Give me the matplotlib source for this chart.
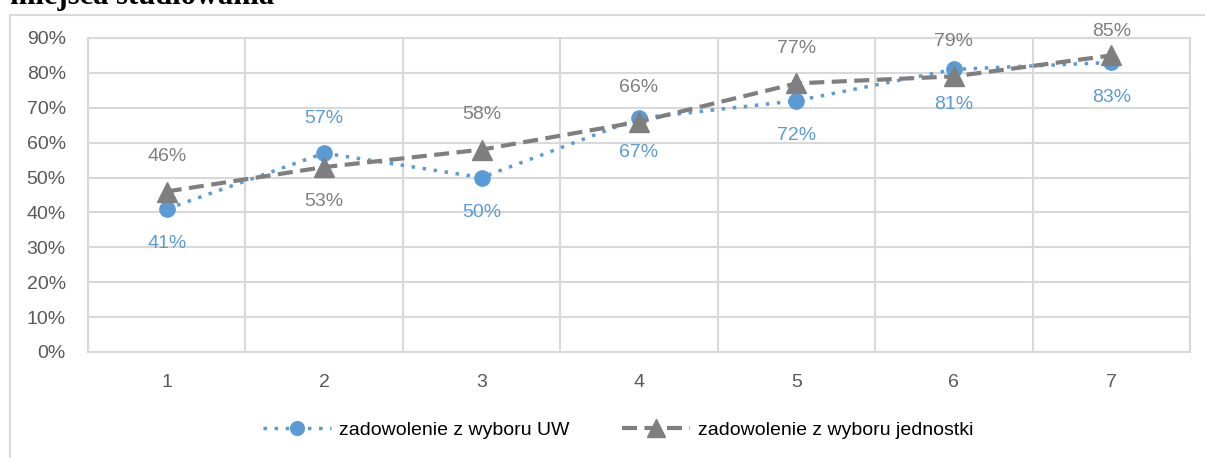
import numpy as np
import matplotlib.pyplot as plt
from matplotlib.patches import Rectangle

plt.rcParams['font.family'] = ['Liberation Sans', 'DejaVu Sans']

categories = [1, 2, 3, 4, 5, 6, 7]
uw = [41, 57, 50, 67, 72, 81, 83]
jedn = [46, 53, 58, 66, 77, 79, 85]
uw_pos = ['below', 'above', 'below', 'below', 'below', 'below', 'below']
jedn_pos = ['above', 'below', 'above', 'above', 'above', 'above', 'above']
yticks = [0, 10, 20, 30, 40, 50, 60, 70, 80, 90]

blue = '#5b9bd5'
grey = '#7f7f7f'
txt = '#595959'
fs = 14

fig = plt.figure(figsize=(12.05, 4.58), dpi=100)
W, H = 1205, 458
ax_top, ax_bot = 38, 352

# chart frame
fig.patches.append(Rectangle((10 / W, -0.1), 1.2, 1 - 15 / H + 0.1, transform=fig.transFigure,
                             fill=False, edgecolor='#d9d9d9', linewidth=1.5))
fig.text(10 / W, 1 - 4 / H, 'miejsca studiowania', family='Liberation Serif', weight='bold',
         fontsize=22, va='baseline', ha='left')

ax = fig.add_axes([88 / W, 1 - ax_bot / H, (1190 - 88) / W, (ax_bot - ax_top) / H])
ax.set_xlim(0.5, 7.5)
ax.set_ylim(0, 90)
ax.set_yticks(yticks)
ax.set_yticklabels([f'{v}%' for v in yticks])
ax.set_xticks(categories)
ax.set_xticks(np.arange(0.5, 8, 1), minor=True)
ax.grid(True, which='major', axis='y', color='#d9d9d9', linewidth=1.5)
ax.grid(True, which='minor', axis='x', color='#d9d9d9', linewidth=1.5)
ax.tick_params(which='both', length=0)
ax.tick_params(axis='y', labelsize=fs, labelcolor=txt, pad=16)
ax.tick_params(axis='x', labelsize=fs, labelcolor=txt, pad=16)
for s in ax.spines.values():
    s.set_color('#d9d9d9')
    s.set_linewidth(1.5)
ax.set_axisbelow(True)

ax.plot(categories, uw, color=blue, linestyle=(0, (1, 2.2)), linewidth=2.5, marker='o',
        markersize=11, label='zadowolenie z wyboru UW', zorder=3)
ax.plot(categories, jedn, color=grey, linestyle=(0, (3.6, 1.8)), linewidth=3, marker='^',
        markersize=14, label='zadowolenie z wyboru jednostki', zorder=4)


def label_offset(v, pos):
    # label ~35px from the point, kept inside the chart frame
    if pos == 'below':
        return -25
    px_from_top = ax_bot - v * (ax_bot - ax_top) / 90
    return min(25, (px_from_top - 32) * 0.72)


for x, v, p in zip(categories, uw, uw_pos):
    ax.annotate(f'{v}%', (x, v), xytext=(0, label_offset(v, p)), textcoords='offset points',
                ha='center', va='center', color=blue, fontsize=fs)
for x, v, p in zip(categories, jedn, jedn_pos):
    ax.annotate(f'{v}%', (x, v), xytext=(0, label_offset(v, p)), textcoords='offset points',
                ha='center', va='center', color=grey, fontsize=fs)

ax.legend(loc='center', bbox_to_anchor=(618 / W, (458 - 430) / H), bbox_transform=fig.transFigure,
          ncol=2, frameon=False, fontsize=fs, handlelength=3.5, columnspacing=2.7,
          handletextpad=0.4, markerscale=0.9)

fig.savefig('out.png', dpi=100)
